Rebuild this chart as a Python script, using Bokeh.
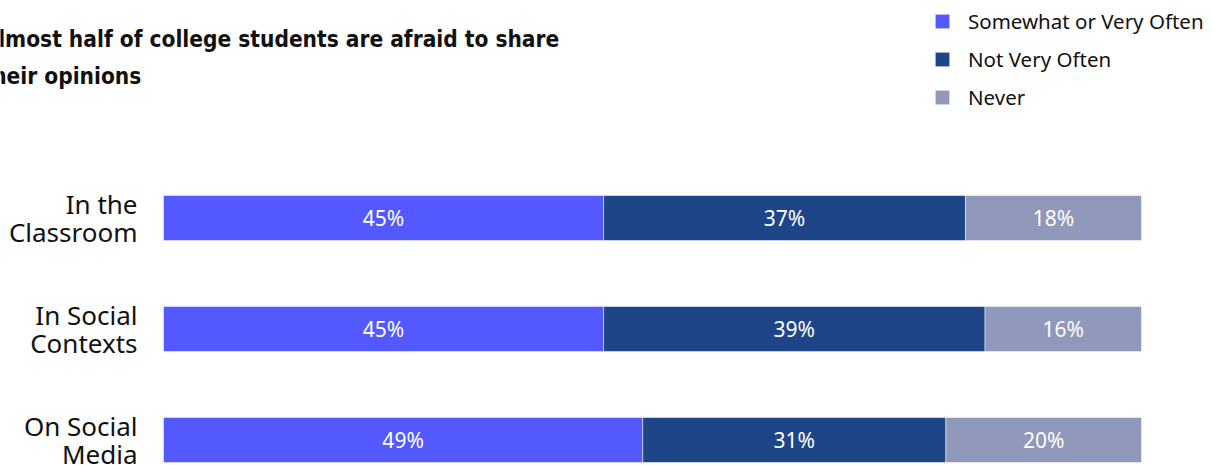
from bokeh.plotting import figure
from bokeh.models import ColumnDataSource, Range1d, Label, Legend, LegendItem
from bokeh.core.properties import value
from bokeh.embed import file_html
from bokeh.resources import INLINE

# ---- data ----
categories = ["In the\nClassroom", "In Social\nContexts", "On Social\nMedia"]
series = ["Somewhat or Very Often", "Not Very Often", "Never"]
somewhat = [45, 45, 49]
not_very = [37, 39, 31]
never = [18, 16, 20]
title_text = "Almost half of college students are afraid to share\ntheir opinions"

colors = ["#5359FF", "#1E4587", "#9098BB"]
FONT = "Noto Sans"
TITLE_FONT = "'Liberation Sans Narrow', 'DejaVu Sans Condensed', 'Roboto Condensed', sans-serif"

n = len(categories)
ypos = [n - 1 - i for i in range(n)]
values = [somewhat, not_very, never]

W, H = 1213, 465
left_px, right_px = 163, 1141
ppx = (right_px - left_px) / 100.0
ppy = 111.0
y0 = -0.2297

def dx(px):
    return (px - left_px) / ppx

def dy(py):
    return y0 + (H - py) / ppy

p = figure(width=W, height=H, output_backend="svg", toolbar_location=None,
           x_range=Range1d(dx(0), dx(W)), y_range=Range1d(dy(H), dy(0)),
           min_border_left=0, min_border_right=0,
           min_border_top=0, min_border_bottom=0)
p.outline_line_color = None
p.xaxis.visible = False
p.yaxis.visible = False
p.xgrid.visible = False
p.ygrid.visible = False
p.background_fill_color = "white"
p.border_fill_color = "white"

renderers = []
lefts = [0] * n
for s, vals, c in zip(series, values, colors):
    rights = [l + v for l, v in zip(lefts, vals)]
    src = ColumnDataSource(dict(y=ypos, left=lefts, right=rights,
                                xc=[(l + r) / 2 for l, r in zip(lefts, rights)],
                                lab=[f"{v}%" for v in vals]))
    r = p.hbar(y="y", left="left", right="right", height=0.405, source=src,
               fill_color=c, line_color="white", line_width=0.5)
    p.text(x="xc", y="y", text="lab", source=src, text_color="white",
           text_align="center", text_baseline="middle",
           text_font=value(FONT), text_font_size="21px")
    renderers.append(r)
    lefts = rights

# category labels (left of bars)
cat_src = ColumnDataSource(dict(y=ypos, x=[dx(137)] * n, t=categories))
p.text(x="x", y="y", text="t", source=cat_src, text_align="right", text_baseline="middle",
       text_font=value(FONT), text_font_size="26px", text_color="#111111",
       text_line_height=0.76)

legend = Legend(items=[LegendItem(label=s, renderers=[r]) for s, r in zip(series, renderers)],
                location=(933, 354), orientation="vertical",
                glyph_width=18, glyph_height=18, label_standoff=17,
                label_text_font=FONT, label_text_font_size="20.5px", label_text_color="#111111",
                padding=0, margin=0, spacing=10, border_line_color=None,
                background_fill_alpha=0)
p.add_layout(legend)

title = Label(x=dx(-18), y=dy(25), text=title_text, text_font=TITLE_FONT,
              text_font_style="bold", text_font_size="22.5px", text_color="#111111",
              text_baseline="top", text_align="left", text_line_height=1.45)
p.add_layout(title)

open("out.html", "w").write(file_html(p, INLINE))
